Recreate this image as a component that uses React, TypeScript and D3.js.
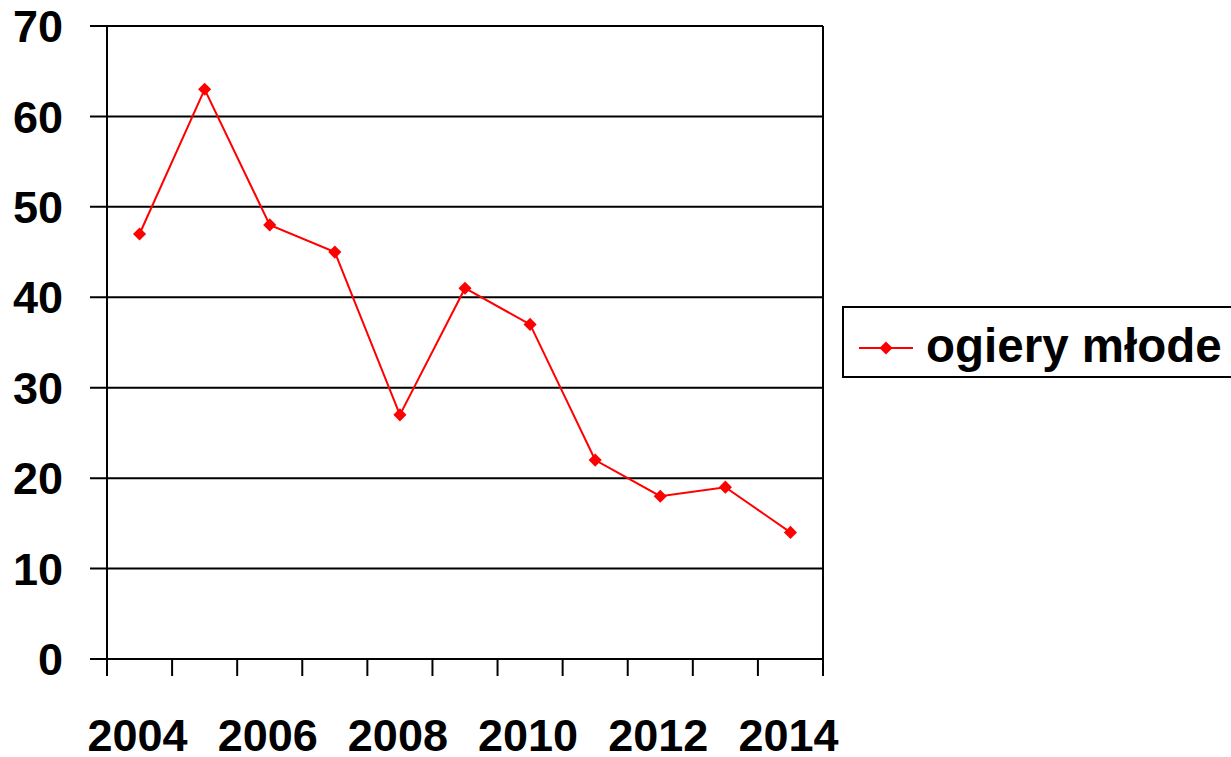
import React from 'react'
import * as d3 from 'd3'

const years = ['2004', '2005', '2006', '2007', '2008', '2009', '2010', '2011', '2012', '2013', '2014']
const values = [47, 63, 48, 45, 27, 41, 37, 22, 18, 19, 14]
const yTicks = [0, 10, 20, 30, 40, 50, 60, 70]
const seriesName = 'ogiery młode'

export default function App() {
  const width = 1231
  const height = 757
  const margin = { top: 26, right: 408, bottom: 98, left: 107 }
  const x = d3.scaleBand().domain(years).range([margin.left, width - margin.right]).padding(0)
  const y = d3.scaleLinear().domain([0, 70]).range([height - margin.bottom, margin.top])

  const cx = (d: string) => (x(d) || 0) + x.bandwidth() / 2
  const line = d3.line<number>().x((_, i) => cx(years[i])).y(d => y(d))
  const diamond = d3.symbol().type(d3.symbolDiamond2).size(110)

  const font = '"Liberation Sans", Arial, sans-serif'
  const x0 = margin.left
  const x1 = width - margin.right
  const yBottom = y(0)

  // tick positions are the band edges
  const edges = years.map(d => x(d) || 0).concat([x1])

  return (
    <div style={{ position: 'absolute', left: 0, top: 0 }}>
      <svg width={width} height={height} style={{ display: 'block', background: '#fff' }}>
        {/* grid lines + y ticks */}
        {yTicks.map(t => (
          <g key={t}>
            <line x1={x0 - 17} x2={x1} y1={y(t)} y2={y(t)} stroke="#000" strokeWidth={2} />
            <text x={63} y={y(t)} dy="0.36em" textAnchor="end" fontFamily={font} fontWeight="bold" fontSize={45}>{t}</text>
          </g>
        ))}
        {/* axes frame */}
        <line x1={x0} x2={x0} y1={y(70)} y2={yBottom} stroke="#000" strokeWidth={2} />
        <line x1={x1} x2={x1} y1={y(70)} y2={yBottom} stroke="#000" strokeWidth={2} />
        {edges.map((e, i) => (
          <line key={i} x1={e} x2={e} y1={yBottom} y2={yBottom + 17} stroke="#000" strokeWidth={2} />
        ))}
        {years.map((d, i) => i % 2 === 0 ? (
          <text key={d} x={cx(d) - 2} y={751} textAnchor="middle" fontFamily={font} fontWeight="bold" fontSize={45}>{d}</text>
        ) : null)}
        {/* series */}
        <path d={line(values) || ''} fill="none" stroke="#ff0000" strokeWidth={2} />
        {values.map((v, i) => (
          <path key={i} d={diamond() || ''} transform={`translate(${cx(years[i])},${y(v)})`} fill="#ff0000" />
        ))}
        {/* legend */}
        <rect x={843} y={307} width={400} height={70} fill="#fff" stroke="#000" strokeWidth={2} />
        <line x1={859} x2={913} y1={348} y2={348} stroke="#ff0000" strokeWidth={2} />
        <path d={diamond() || ''} transform="translate(886,348)" fill="#ff0000" />
        <text x={926} y={362} fontFamily={font} fontWeight="bold" fontSize={47.5}>{seriesName}</text>
      </svg>
    </div>
  )
}
